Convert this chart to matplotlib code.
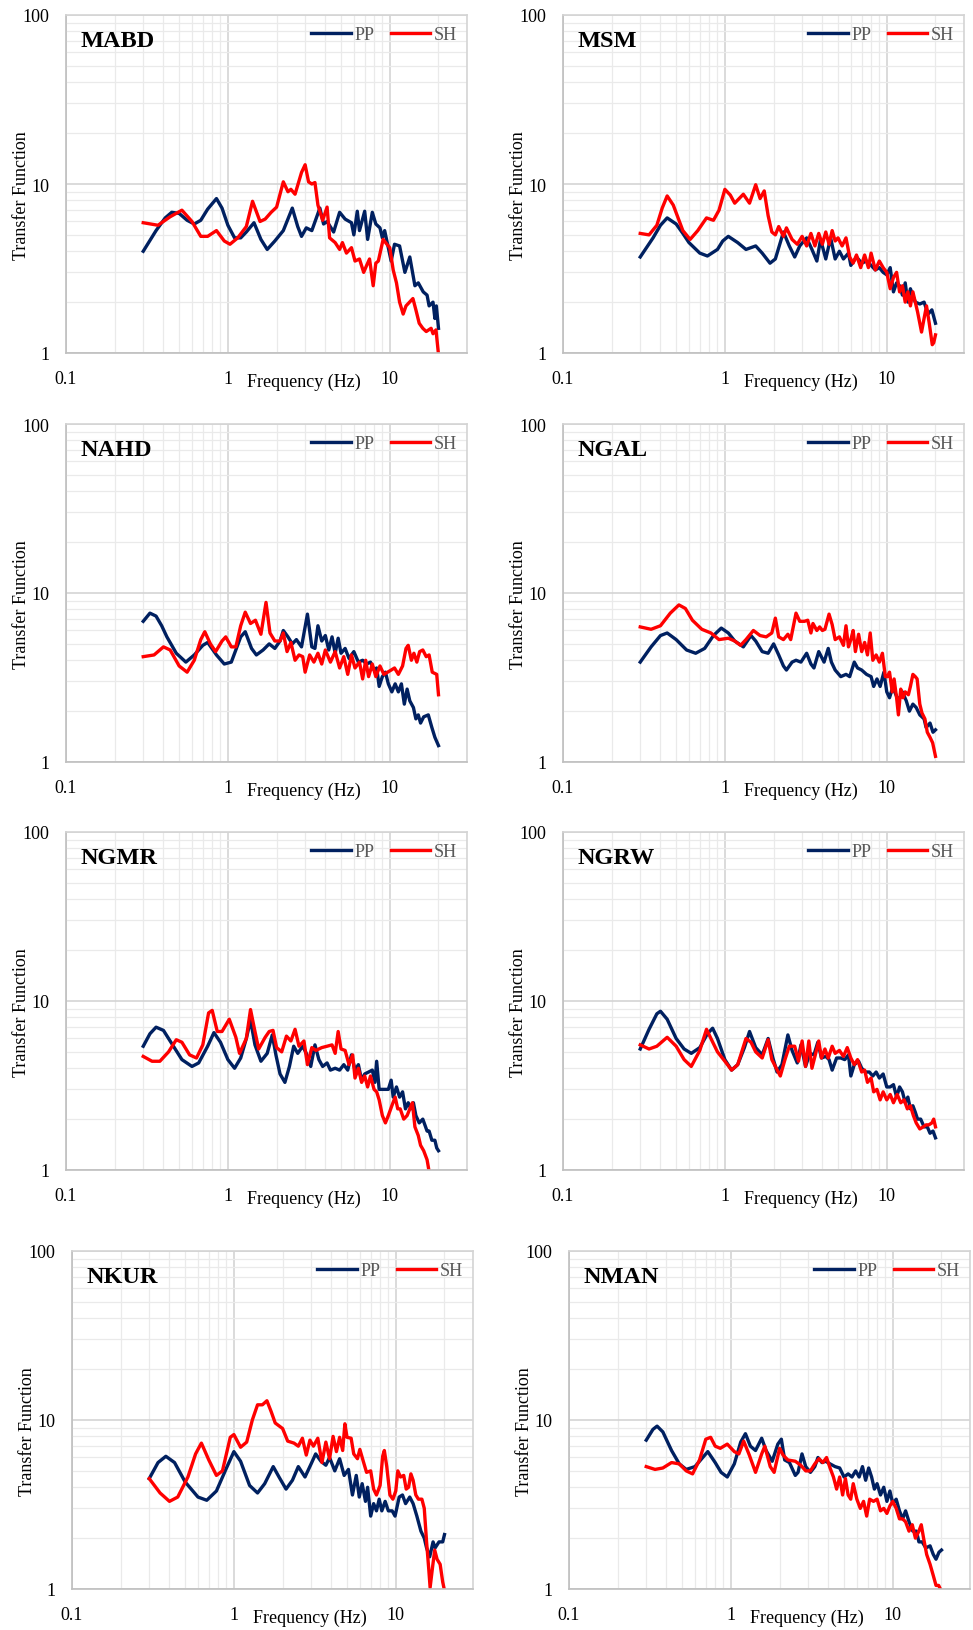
import numpy as np
import matplotlib
matplotlib.use("Agg")
import matplotlib.pyplot as plt
from matplotlib.ticker import LogLocator, NullFormatter, FixedLocator, FixedFormatter

plt.rcParams['font.family'] = ['Liberation Serif', 'DejaVu Serif']

# transfer functions: (frequency Hz, amplitude)
MABD_PP = [(0.3, 4.0), (0.36, 5.3), (0.41, 6.3), (0.45, 6.8), (0.5, 6.7), (0.56, 6.1), (0.62, 5.8), (0.68, 6.1),
           (0.75, 7.1), (0.85, 8.2), (0.92, 7.2), (1.0, 5.7),
           (1.1, 4.8), (1.2, 4.8), (1.3, 5.2), (1.45, 5.9), (1.6, 4.7), (1.75, 4.1), (1.95, 4.6), (2.2, 5.3),
           (2.5, 7.2), (2.7, 5.6), (2.85, 4.9), (3.05, 5.5), (3.3, 5.3), (3.7, 7.2), (3.9, 5.8), (4.1, 6.0),
           (4.5, 5.2), (4.9, 6.8), (5.3, 6.2), (5.8, 5.9), (6.0, 5.0), (6.3, 6.9), (6.5, 5.3), (7.0, 6.9),
           (7.3, 4.7), (7.8, 6.8), (8.2, 5.8), (8.7, 5.5), (9.0, 4.8), (9.3, 5.3), (10.2, 3.5), (10.7, 4.4),
           (11.5, 4.3), (12.4, 3.0), (13.3, 3.7), (14.3, 2.5), (15.0, 2.6), (16.1, 2.3), (17.0, 2.2),
           (17.5, 1.9), (18.5, 2.0), (19.0, 1.6), (19.4, 1.9), (20.0, 1.4)]
MABD_SH = [(0.3, 5.9), (0.37, 5.7), (0.44, 6.4), (0.52, 7.0), (0.6, 6.0), (0.68, 4.9), (0.75, 4.9), (0.85, 5.3),
           (0.95, 4.6), (1.03, 4.4), (1.15, 4.8), (1.3, 5.6), (1.42, 7.9), (1.58, 6.0), (1.7, 6.2), (1.85, 6.8),
           (2.0, 7.3), (2.2, 10.3), (2.35, 9.0), (2.45, 9.3), (2.6, 8.7), (2.85, 11.7), (3.0, 13.0),
           (3.15, 10.3), (3.3, 10.0), (3.45, 10.2), (3.6, 7.5), (3.85, 6.1), (4.1, 7.3), (4.25, 4.8),
           (4.6, 4.5), (4.9, 4.1), (5.1, 4.5), (5.4, 3.9), (5.8, 4.2), (6.1, 3.5), (6.5, 3.6), (6.9, 3.0),
           (7.2, 3.3), (7.5, 3.6), (7.9, 2.5), (8.2, 3.4), (8.5, 3.5), (9.1, 4.7), (9.6, 4.4), (10.0, 4.2),
           (10.5, 3.1), (11.0, 2.6), (11.5, 2.0), (12.1, 1.7), (12.6, 1.9), (13.9, 2.1), (14.5, 1.8),
           (15.2, 1.5), (16.0, 1.4), (16.8, 1.34), (18.0, 1.4), (18.5, 1.3), (19.3, 1.37), (20.0, 0.98)]

MSM_PP = [(0.3, 3.7), (0.36, 4.8), (0.4, 5.7), (0.44, 6.3), (0.5, 5.8), (0.55, 5.1), (0.6, 4.5), (0.7, 3.9),
          (0.78, 3.75), (0.9, 4.1), (0.97, 4.6),
          (1.05, 4.9), (1.2, 4.5), (1.35, 4.1), (1.55, 4.3), (1.7, 3.9), (1.9, 3.4), (2.05, 3.6), (2.3, 5.2),
          (2.5, 4.3), (2.7, 3.7), (2.9, 4.3), (3.2, 4.8), (3.45, 4.1), (3.7, 3.5), (3.9, 4.7), (4.2, 3.6),
          (4.5, 4.8), (4.8, 3.6), (5.1, 4.0), (5.4, 3.6), (5.8, 3.9), (6.0, 3.3), (6.5, 3.7), (7.0, 3.4),
          (7.5, 3.5), (8.0, 3.3), (8.5, 3.1), (9.0, 3.2), (9.5, 3.0), (10.0, 2.9), (10.5, 3.2), (11.0, 2.3),
          (11.5, 2.6), (12.0, 2.5), (12.5, 2.2), (13.0, 2.6), (13.5, 2.0), (14.0, 2.4), (15.0, 2.0),
          (16.0, 1.95), (17.0, 2.0), (18.0, 1.7), (19.0, 1.8), (20.0, 1.5)]
MSM_SH = [(0.3, 5.1), (0.34, 5.0), (0.38, 5.7), (0.41, 7.2), (0.44, 8.5), (0.48, 7.5), (0.55, 5.3), (0.61, 4.7),
          (0.68, 5.3),
          (0.77, 6.3), (0.85, 6.1), (0.92, 7.0), (1.0, 9.3), (1.08, 8.6), (1.15, 7.7), (1.3, 8.7), (1.42, 7.7),
          (1.55, 9.9), (1.65, 8.2), (1.75, 9.1), (1.85, 6.5), (1.95, 5.2), (2.05, 5.0), (2.15, 5.6),
          (2.3, 4.9), (2.4, 5.5), (2.6, 4.7), (2.8, 4.4), (3.0, 4.9), (3.2, 4.3), (3.4, 5.1), (3.6, 4.3),
          (3.8, 5.1), (4.0, 4.4), (4.2, 5.2), (4.4, 4.4), (4.6, 5.3), (4.8, 4.6), (5.0, 4.8), (5.3, 4.3),
          (5.6, 4.8), (5.9, 3.7), (6.2, 3.4), (6.5, 3.8), (6.9, 3.2), (7.3, 3.8), (7.7, 3.2), (8.0, 3.9),
          (8.5, 3.1), (9.0, 3.5), (9.5, 3.2), (10.0, 3.0), (10.5, 2.4), (11.0, 2.8), (11.5, 3.0), (12.0, 2.3),
          (12.5, 2.5), (13.0, 2.0), (13.5, 2.3), (14.0, 1.9), (14.5, 2.3), (15.5, 1.75), (16.4, 1.33),
          (17.0, 1.6), (17.6, 1.9), (18.3, 1.5), (19.1, 1.12), (19.5, 1.15), (20.0, 1.28)]

NAHD_PP = [(0.3, 6.8), (0.33, 7.6), (0.36, 7.3), (0.39, 6.4), (0.42, 5.5), (0.48, 4.4), (0.55, 3.9), (0.62, 4.3),
           (0.7, 4.9), (0.75, 5.1), (0.85, 4.3), (0.95, 3.8), (1.05, 3.9), (1.2, 5.5), (1.28, 5.9), (1.4, 4.7),
           (1.5, 4.3),
           (1.65, 4.6), (1.8, 5.0), (1.95, 4.7), (2.1, 5.2), (2.2, 6.0), (2.35, 5.5), (2.5, 5.0), (2.65, 5.3),
           (2.85, 4.8), (3.1, 7.5), (3.3, 4.8), (3.45, 4.7), (3.6, 6.4), (3.8, 5.2), (4.0, 5.6), (4.2, 4.6),
           (4.4, 5.5), (4.6, 4.4), (4.8, 5.4), (5.0, 4.4), (5.3, 4.7), (5.6, 4.1), (6.0, 4.5), (6.4, 3.9),
           (6.8, 4.0), (7.2, 3.8), (7.6, 3.9), (8.0, 3.5), (8.3, 3.6), (8.6, 2.8), (9.0, 3.2), (9.4, 3.4),
           (9.8, 2.9), (10.3, 2.6), (10.8, 2.9), (11.3, 2.6), (11.8, 2.9), (12.3, 2.2), (12.8, 2.7),
           (13.3, 2.3), (14.0, 2.1), (14.5, 1.8), (15.0, 1.9), (15.5, 1.7), (16.2, 1.85), (17.3, 1.9),
           (18.2, 1.6), (19.0, 1.4), (20.0, 1.25)]
NAHD_SH = [(0.3, 4.2), (0.35, 4.3), (0.4, 4.8), (0.44, 4.6), (0.5, 3.7), (0.56, 3.4), (0.62, 4.0), (0.68, 5.3),
           (0.72, 5.9), (0.78, 5.0), (0.84, 4.5), (0.92, 5.2), (0.97, 5.5), (1.05, 4.8), (1.12, 4.8),
           (1.2, 6.4), (1.28, 7.7), (1.38, 6.6), (1.48, 6.9), (1.6, 5.7), (1.72, 8.8), (1.82, 5.8),
           (1.95, 5.2), (2.1, 5.2), (2.2, 5.8), (2.32, 4.5), (2.45, 5.1), (2.6, 4.0), (2.75, 4.3), (2.9, 4.2),
           (3.0, 3.4), (3.2, 4.3), (3.4, 3.9), (3.6, 4.4), (3.8, 3.8), (4.0, 4.6), (4.3, 3.9), (4.6, 4.5),
           (4.9, 3.6), (5.2, 4.2), (5.5, 3.3), (5.8, 4.3), (6.1, 3.6), (6.5, 3.9), (6.8, 3.1), (7.1, 4.0),
           (7.4, 3.2), (7.8, 3.8), (8.2, 3.2), (8.7, 3.7), (9.2, 3.3), (9.7, 3.4), (10.2, 3.5), (10.7, 3.6),
           (11.3, 3.3), (12.0, 3.7), (12.6, 4.7), (13.0, 4.9), (13.6, 4.0), (14.1, 4.4), (14.7, 3.9),
           (15.3, 4.5), (16.0, 4.6), (16.8, 4.2), (17.5, 4.3), (18.3, 3.4), (19.5, 3.3), (20.0, 2.5)]

NGAL_PP = [(0.3, 3.9), (0.35, 4.8), (0.4, 5.6), (0.44, 5.8), (0.5, 5.3), (0.58, 4.6), (0.66, 4.4), (0.75, 4.7),
           (0.85, 5.6), (0.95, 6.2), (1.05, 5.8), (1.15, 5.2), (1.3, 4.8), (1.45, 5.6), (1.55, 5.2), (1.7, 4.5),
           (1.85, 4.4), (2.0, 5.0), (2.15, 4.3), (2.3, 3.7), (2.4, 3.5), (2.6, 3.9), (2.75, 4.0), (2.95, 3.9),
           (3.2, 4.4), (3.4, 3.8), (3.55, 3.6), (3.8, 4.5), (4.1, 3.9), (4.35, 4.7), (4.55, 3.9), (4.8, 3.5),
           (5.2, 3.2), (5.6, 3.3), (5.9, 3.2), (6.3, 3.9), (6.6, 3.6), (7.0, 3.5), (7.5, 3.3), (8.0, 3.2),
           (8.3, 2.8), (8.7, 3.1), (9.1, 2.8), (9.6, 3.4), (10.0, 2.6), (10.4, 2.4), (10.8, 2.7), (11.2, 2.6),
           (11.8, 2.3), (12.5, 2.6), (13.2, 2.3), (13.8, 2.0), (14.5, 2.2), (15.2, 2.1), (16.0, 1.9),
           (17.0, 1.8), (17.5, 1.6), (18.5, 1.7), (19.3, 1.5), (20.0, 1.55)]
NGAL_SH = [(0.3, 6.3), (0.35, 6.1), (0.4, 6.4), (0.46, 7.6), (0.52, 8.5), (0.57, 8.1), (0.63, 6.9), (0.72, 6.1),
           (0.82, 5.8), (0.92, 5.3), (1.05, 5.4), (1.15, 5.2), (1.25, 4.9), (1.35, 5.3), (1.5, 6.0),
           (1.65, 5.6), (1.8, 5.5), (1.95, 5.8), (2.05, 7.1), (2.15, 5.5), (2.3, 5.3), (2.45, 5.7), (2.55, 5.3),
           (2.75, 7.6), (2.9, 6.8), (3.1, 6.8), (3.25, 6.9), (3.4, 5.8), (3.5, 6.6), (3.7, 6.0), (3.85, 6.3),
           (4.0, 6.0), (4.15, 6.1), (4.4, 7.5), (4.6, 6.5), (4.8, 5.3), (5.1, 5.5), (5.4, 4.9), (5.6, 6.4),
           (5.8, 4.8), (6.0, 5.3), (6.2, 6.0), (6.4, 4.5), (6.7, 5.7), (7.0, 4.5), (7.3, 5.1), (7.6, 4.3),
           (7.9, 5.8), (8.2, 4.0), (8.6, 4.3), (9.0, 3.9), (9.4, 4.4), (9.8, 3.2), (10.1, 3.2), (10.4, 3.4),
           (10.8, 2.6), (11.1, 3.1), (11.5, 2.4), (11.8, 1.9), (12.2, 2.7), (12.6, 2.4), (13.0, 2.6),
           (13.6, 2.5), (14.0, 2.8), (14.5, 3.3), (15.0, 3.2), (15.4, 3.1), (16.0, 2.2), (16.5, 1.95),
           (17.2, 1.8), (17.8, 1.5), (18.5, 1.4), (19.2, 1.3), (20.0, 1.08)]

NGMR_PP = [(0.3, 5.4), (0.33, 6.4), (0.36, 7.0), (0.4, 6.7), (0.45, 5.6), (0.52, 4.5), (0.6, 4.1), (0.66, 4.3),
           (0.75, 5.4), (0.82, 6.5), (0.9, 5.7), (1.0, 4.5), (1.1, 4.0), (1.2, 4.6), (1.3, 6.0), (1.38, 7.7),
           (1.47, 5.5), (1.6, 4.4), (1.75, 4.9), (1.88, 6.3), (1.98, 4.8), (2.1, 3.7), (2.25, 3.3), (2.4, 4.1),
           (2.55, 5.4), (2.7, 4.9), (2.9, 5.4), (3.05, 4.9), (3.25, 4.1), (3.45, 5.5), (3.65, 4.5),
           (3.85, 4.1), (4.1, 4.3), (4.3, 3.9), (4.6, 4.0), (4.9, 3.9), (5.2, 4.2), (5.5, 3.9), (5.8, 4.8),
           (6.1, 3.9), (6.4, 4.2), (6.7, 3.4), (7.0, 3.7), (7.4, 3.8), (7.8, 3.9), (8.1, 3.3), (8.3, 4.4),
           (8.6, 3.0), (9.0, 3.0), (9.4, 3.0), (9.8, 3.0), (10.2, 3.4), (10.5, 2.7), (11.0, 3.1), (11.5, 2.7),
           (12.0, 2.9), (12.5, 2.3), (13.0, 2.5), (13.5, 2.3), (14.0, 2.5), (14.5, 2.1), (15.2, 1.9),
           (16.0, 2.0), (17.0, 1.7), (17.5, 1.7), (18.2, 1.5), (19.0, 1.5), (19.5, 1.35), (20.0, 1.3)]
NGMR_SH = [(0.3, 4.7), (0.34, 4.4), (0.38, 4.4), (0.43, 5.0), (0.48, 5.9), (0.52, 5.7), (0.58, 4.8), (0.64, 4.6),
           (0.7, 5.5), (0.76, 8.5), (0.8, 8.8), (0.86, 6.6), (0.92, 6.6), (1.02, 7.8), (1.12, 6.1), (1.18, 4.9),
           (1.3, 6.0), (1.38, 8.9), (1.47, 6.6), (1.55, 5.2), (1.7, 6.1), (1.8, 6.6), (1.9, 6.7), (2.0, 5.3),
           (2.15, 5.0), (2.3, 6.2), (2.45, 5.8), (2.6, 6.8), (2.75, 5.4), (2.95, 5.8), (3.1, 4.2), (3.3, 5.3),
           (3.5, 5.1), (3.8, 5.3), (4.1, 5.4), (4.4, 5.5), (4.6, 4.9), (4.8, 6.6), (5.0, 5.2), (5.3, 5.1),
           (5.6, 4.2), (5.9, 4.8), (6.1, 3.5), (6.4, 4.0), (6.7, 3.3), (7.0, 3.6), (7.3, 3.1), (7.6, 3.6),
           (8.0, 3.0), (8.3, 2.9), (8.6, 2.6), (9.0, 2.1), (9.4, 1.9), (9.8, 2.1), (10.3, 2.4), (10.8, 2.7),
           (11.2, 2.3), (11.6, 2.3), (12.2, 2.0), (12.8, 2.1), (13.3, 2.3), (13.8, 2.5), (14.3, 1.8),
           (15.0, 1.6), (15.5, 1.4), (16.2, 1.3), (17.0, 1.15), (17.5, 0.98)]

NGRW_PP = [(0.3, 5.2), (0.34, 6.8), (0.38, 8.4), (0.4, 8.7), (0.44, 7.8), (0.5, 6.0), (0.56, 5.2), (0.62, 4.9),
           (0.7, 5.3), (0.78, 6.4), (0.84, 6.9), (0.9, 6.0), (1.0, 4.5), (1.1, 3.9), (1.2, 4.2), (1.32, 5.3),
           (1.42, 6.6), (1.55, 5.3), (1.7, 4.8), (1.85, 6.0), (1.98, 4.6), (2.1, 3.8), (2.25, 4.2), (2.45, 6.3),
           (2.6, 5.1), (2.8, 4.3), (2.95, 5.5), (3.15, 4.1), (3.35, 4.9), (3.55, 4.8), (3.75, 5.7), (3.95, 4.6),
           (4.2, 4.7), (4.4, 4.5), (4.6, 3.9), (4.9, 4.6), (5.2, 4.6), (5.5, 4.5), (5.8, 4.8), (6.0, 3.6),
           (6.3, 4.2), (6.7, 4.4), (7.0, 4.0), (7.4, 3.8), (7.8, 3.8), (8.2, 3.6), (8.6, 3.8), (9.0, 3.5),
           (9.5, 3.7), (10.0, 3.1), (10.5, 3.1), (11.0, 3.2), (11.5, 2.7), (12.0, 3.1), (12.5, 2.9), (13.0, 2.5),
           (13.5, 2.7), (14.0, 2.3), (14.5, 2.4), (15.0, 2.2), (15.5, 2.0), (16.2, 2.0), (17.0, 1.8),
           (17.8, 1.8), (18.5, 1.65), (19.3, 1.7), (20.0, 1.55)]
NGRW_SH = [(0.3, 5.5), (0.34, 5.2), (0.38, 5.4), (0.44, 6.1), (0.5, 5.4), (0.56, 4.5), (0.62, 4.1), (0.7, 5.1),
           (0.77, 6.8), (0.82, 6.0), (0.9, 5.0), (1.0, 4.4), (1.1, 3.9), (1.2, 4.2), (1.35, 6.0), (1.45, 5.7),
           (1.55, 5.0), (1.7, 4.6), (1.85, 5.9), (1.95, 4.5), (2.05, 4.1), (2.2, 3.6), (2.35, 4.5), (2.5, 5.4),
           (2.7, 5.4), (2.85, 4.4), (3.0, 5.8), (3.15, 4.1), (3.3, 5.8), (3.45, 4.0), (3.6, 4.7), (3.8, 5.8),
           (3.95, 4.6), (4.15, 5.2), (4.35, 4.6), (4.6, 5.4), (4.8, 4.9), (5.1, 5.1), (5.4, 4.7), (5.7, 5.3),
           (6.0, 4.6), (6.3, 4.2), (6.6, 4.5), (7.0, 3.8), (7.3, 3.9), (7.6, 3.3), (8.0, 3.5), (8.3, 2.9),
           (8.7, 3.0), (9.1, 2.6), (9.5, 2.9), (10.0, 2.6), (10.5, 2.8), (11.0, 2.5), (11.6, 2.8), (12.2, 2.5),
           (12.8, 2.6), (13.4, 2.3), (14.0, 2.4), (14.6, 2.1), (15.2, 1.9), (16.0, 1.75), (16.8, 1.8),
           (17.5, 1.85), (18.2, 1.85), (19.0, 1.9), (19.5, 2.0), (20.0, 1.8)]

NKUR_PP = [(0.3, 4.5), (0.34, 5.6), (0.38, 6.1), (0.43, 5.6), (0.5, 4.3), (0.6, 3.5), (0.68, 3.35), (0.78, 3.8),
           (0.9, 5.2), (1.0, 6.5), (1.1, 5.7), (1.25, 4.1), (1.4, 3.7), (1.55, 4.2), (1.75, 5.3), (1.9, 4.6),
           (2.1, 3.9), (2.3, 4.4), (2.5, 5.3), (2.75, 4.6), (3.0, 5.5), (3.2, 6.3), (3.45, 5.7), (3.7, 5.4),
           (3.9, 6.0), (4.2, 5.0), (4.5, 5.9), (4.8, 4.7), (5.1, 5.1), (5.4, 3.6), (5.7, 4.7), (5.95, 3.5),
           (6.2, 4.2), (6.5, 3.3), (6.7, 4.0), (7.0, 2.7), (7.3, 3.2), (7.6, 2.9), (7.9, 3.4), (8.2, 2.9),
           (8.6, 3.3), (9.0, 2.9), (9.5, 2.9), (9.9, 2.7), (10.5, 3.5), (11.0, 3.6), (11.5, 3.2), (12.2, 3.5),
           (12.8, 3.2), (13.5, 2.7), (14.3, 2.2), (15.0, 2.0), (15.5, 1.75), (16.2, 1.55), (17.0, 1.9),
           (17.5, 1.75), (18.5, 1.9), (19.5, 1.9), (20.0, 2.1)]
NKUR_SH = [(0.3, 4.5), (0.35, 3.7), (0.4, 3.3), (0.45, 3.5), (0.52, 4.6), (0.58, 6.3), (0.63, 7.3), (0.7, 5.8),
           (0.78, 4.7), (0.85, 5.0), (0.95, 7.9), (1.0, 8.2), (1.1, 6.9), (1.2, 7.4), (1.3, 10.0), (1.4, 12.3),
           (1.5, 12.3), (1.6, 13.0), (1.7, 11.2), (1.8, 9.6), (2.0, 8.9), (2.15, 7.5), (2.35, 7.3), (2.5, 7.0),
           (2.65, 7.8), (2.8, 6.2), (2.95, 7.6), (3.1, 7.0), (3.3, 7.8), (3.5, 5.6), (3.7, 7.4), (3.9, 5.9),
           (4.1, 8.0), (4.3, 6.5), (4.5, 7.9), (4.7, 6.6), (4.85, 9.5), (5.0, 7.9), (5.3, 7.8), (5.5, 6.3),
           (5.8, 5.9), (6.0, 6.7), (6.3, 5.7), (6.6, 4.9), (7.0, 5.0), (7.3, 3.9), (7.6, 3.6), (8.0, 4.1),
           (8.3, 6.1), (8.5, 6.6), (8.8, 5.3), (9.2, 3.6), (9.6, 3.4), (10.0, 3.8), (10.3, 5.0), (10.7, 4.6),
           (11.2, 4.7), (11.6, 3.9), (12.0, 4.0), (12.4, 4.8), (12.8, 4.4), (13.3, 3.6), (13.8, 3.4),
           (14.5, 3.4), (15.0, 3.0), (15.5, 1.9), (16.0, 1.3), (16.3, 1.02), (16.8, 1.3), (17.4, 1.7),
           (18.0, 1.5), (18.8, 1.4), (19.5, 1.1), (20.0, 0.98)]

NMAN_PP = [(0.3, 7.6), (0.33, 8.8), (0.35, 9.2), (0.38, 8.5), (0.43, 6.6), (0.48, 5.5), (0.53, 5.1), (0.6, 5.3),
           (0.66, 5.9), (0.72, 6.5), (0.8, 5.6), (0.87, 4.9), (0.95, 4.6), (1.05, 5.5), (1.15, 7.4), (1.23, 8.3),
           (1.32, 7.0), (1.42, 6.6), (1.55, 7.8), (1.65, 6.6), (1.8, 5.7), (1.95, 7.2), (2.05, 7.7), (2.15, 5.8),
           (2.3, 5.6), (2.5, 4.7), (2.6, 4.9), (2.75, 6.3), (2.9, 5.3), (3.1, 4.9), (3.3, 5.3), (3.45, 6.0),
           (3.65, 5.6), (3.85, 5.7), (4.1, 5.5), (4.4, 5.3), (4.7, 5.2), (5.0, 4.6), (5.3, 4.8), (5.6, 4.6),
           (5.9, 5.0), (6.2, 4.6), (6.5, 5.3), (6.8, 4.4), (7.1, 5.2), (7.4, 4.6), (7.7, 3.9), (8.0, 4.2),
           (8.4, 3.6), (8.8, 4.0), (9.2, 3.3), (9.6, 3.8), (10.0, 3.2), (10.5, 3.4), (11.0, 2.9), (11.5, 2.6),
           (12.0, 2.9), (12.6, 2.5), (13.3, 2.2), (14.0, 2.2), (14.5, 1.9), (15.2, 1.9), (16.0, 1.75),
           (17.0, 1.8), (17.8, 1.6), (18.5, 1.5), (19.3, 1.65), (20.0, 1.7)]
NMAN_SH = [(0.3, 5.3), (0.34, 5.1), (0.38, 5.2), (0.43, 5.6), (0.48, 5.5), (0.53, 5.0), (0.58, 4.8), (0.64, 5.8),
           (0.7, 7.7), (0.75, 7.9), (0.8, 7.0), (0.86, 6.8), (0.95, 7.2), (1.05, 6.5), (1.12, 6.3), (1.2, 7.5),
           (1.3, 6.2), (1.42, 4.9), (1.55, 6.3), (1.62, 7.0), (1.75, 5.3), (1.85, 4.9), (2.0, 6.8), (2.1, 6.2),
           (2.25, 5.8), (2.5, 5.7), (2.7, 5.4), (2.9, 5.0), (3.1, 5.0), (3.3, 5.5), (3.5, 5.9), (3.7, 5.6),
           (3.9, 6.0), (4.1, 5.2), (4.3, 4.6), (4.5, 3.9), (4.7, 4.6), (4.9, 3.6), (5.1, 4.5), (5.3, 3.6),
           (5.5, 3.4), (5.7, 4.2), (6.0, 3.4), (6.3, 3.0), (6.6, 3.3), (6.9, 2.7), (7.2, 3.4), (7.6, 3.3),
           (8.0, 3.4), (8.4, 2.9), (8.8, 3.0), (9.2, 2.8), (9.6, 3.1), (10.0, 3.3), (10.5, 3.0), (11.0, 2.6),
           (11.5, 2.6), (12.0, 2.5), (12.6, 2.2), (13.2, 2.4), (13.8, 2.0), (14.5, 2.2), (15.0, 2.4),
           (15.5, 2.0), (16.2, 1.6), (17.0, 1.4), (17.8, 1.2), (18.5, 1.05), (19.2, 1.05), (20.0, 0.97)]

stations = ['MABD', 'MSM', 'NAHD', 'NGAL', 'NGMR', 'NGRW', 'NKUR', 'NMAN']
pp_data = [MABD_PP, MSM_PP, NAHD_PP, NGAL_PP, NGMR_PP, NGRW_PP, NKUR_PP, NMAN_PP]
sh_data = [MABD_SH, MSM_SH, NAHD_SH, NGAL_SH, NGMR_SH, NGRW_SH, NKUR_SH, NMAN_SH]

PP_COLOR = '#002060'
SH_COLOR = '#FF0000'

W, H = 973, 1631
fig = plt.figure(figsize=(W / 100, H / 100), dpi=100)

# axes boxes in pixels (left, top)
lefts = [66, 563]
tops = [16, 425, 833, 1252]
aw, ah = 401, 338

for i, name in enumerate(stations):
    row, col = divmod(i, 2)
    left = lefts[col] + (6 if row == 3 else 0)
    top = tops[row]
    ax = fig.add_axes([left / W, 1 - (top + ah) / H, aw / W, ah / H])

    pp = np.array(pp_data[i])
    sh = np.array(sh_data[i])
    ax.plot(pp[:, 0], pp[:, 1], color=PP_COLOR, lw=2.4, label='PP', solid_joinstyle='round')
    ax.plot(sh[:, 0], sh[:, 1], color=SH_COLOR, lw=2.4, label='SH', solid_joinstyle='round')

    ax.set_xscale('log')
    ax.set_yscale('log')
    ax.set_xlim(0.1, 30)
    ax.set_ylim(1, 100)

    ax.xaxis.set_major_locator(FixedLocator([0.1, 1, 10]))
    ax.xaxis.set_major_formatter(FixedFormatter(['0.1', '1', '10']))
    ax.yaxis.set_major_locator(FixedLocator([1, 10, 100]))
    ax.yaxis.set_major_formatter(FixedFormatter(['1', '10', '100']))
    ax.xaxis.set_minor_locator(LogLocator(base=10, subs=range(2, 10)))
    ax.yaxis.set_minor_locator(LogLocator(base=10, subs=range(2, 10)))
    ax.xaxis.set_minor_formatter(NullFormatter())
    ax.yaxis.set_minor_formatter(NullFormatter())

    ax.grid(which='major', color='#D4D4D4', lw=1.2)
    ax.grid(which='minor', color='#EAEAEA', lw=0.9)
    ax.set_axisbelow(True)
    ax.tick_params(which='both', length=0)
    ax.tick_params(axis='x', pad=12, labelsize=13)
    ax.tick_params(axis='y', pad=12, labelsize=13)
    for s in ax.spines.values():
        s.set_color('#D4D4D4')
        s.set_linewidth(1.2)
    ax.spines['left'].set_color('#BFBFBF')
    ax.spines['bottom'].set_color('#BFBFBF')

    ax.text(0.037, 0.926, name, transform=ax.transAxes, fontsize=17.5, fontweight='bold',
            va='center', ha='left')
    ax.text(0.594, -0.083, 'Frequency (Hz)', transform=ax.transAxes, fontsize=13,
            va='center', ha='center')
    ax.text(-0.112, 0.47, 'Transfer Function', transform=ax.transAxes, fontsize=13,
            va='center', ha='center', rotation=90)

    leg = ax.legend(loc='upper right', bbox_to_anchor=(0.975, 0.967), ncol=2, frameon=False,
                    fontsize=13, handlelength=2.2, handletextpad=0.2, columnspacing=0.9,
                    borderpad=0, borderaxespad=0)
    for t in leg.get_texts():
        t.set_color('#595959')

fig.savefig('out.png', dpi=100)
